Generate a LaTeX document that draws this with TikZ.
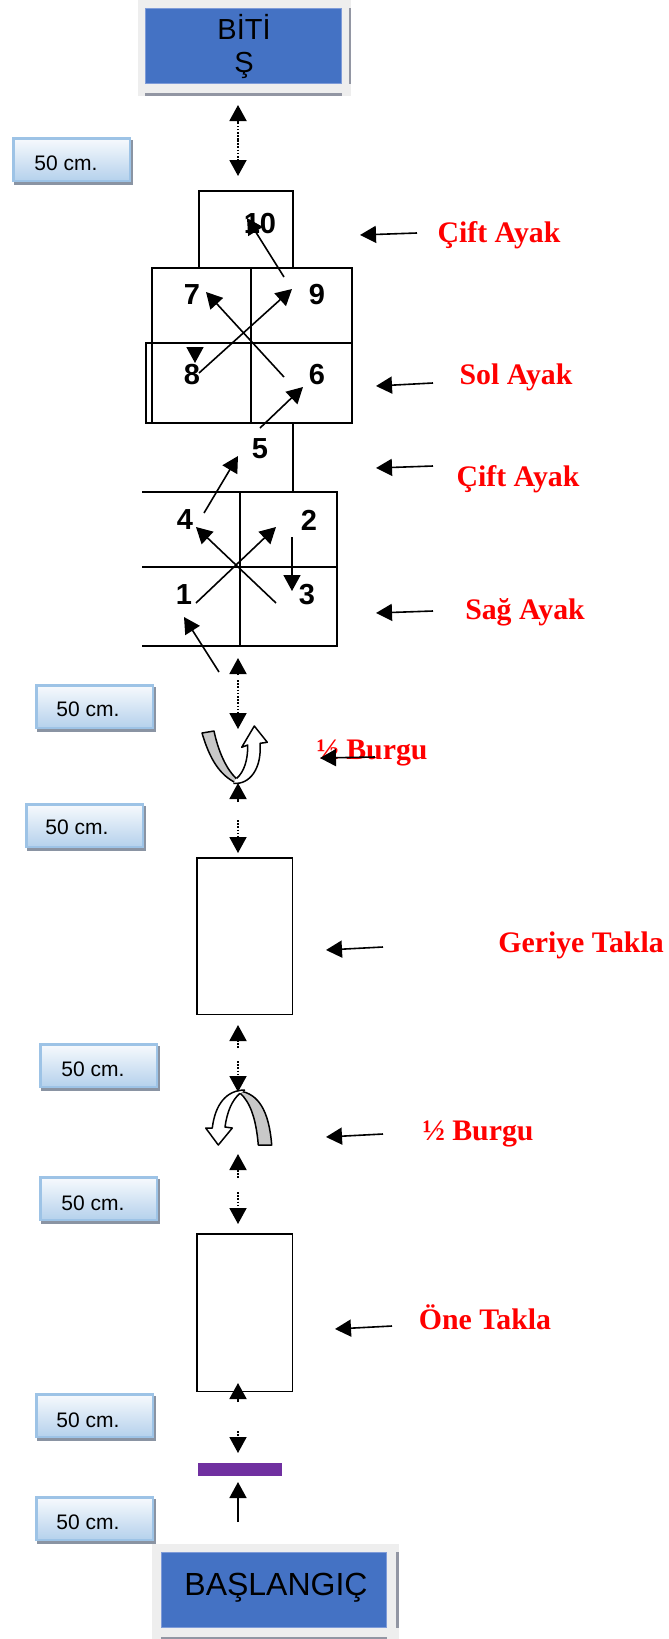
\documentclass[tikz,border=0pt]{standalone}
\usepackage{fontspec}
\setmainfont{Liberation Sans}
\newfontfamily\serifbold[BoldFont={Liberation Serif Bold}]{Liberation Serif}
\usetikzlibrary{arrows.meta}
\definecolor{bluefill}{HTML}{4472C4}
\definecolor{blueedge}{HTML}{7E9BD8}
\definecolor{paleframe}{HTML}{EEEEEE}
\definecolor{greystrip}{HTML}{9296A3}
\definecolor{cmedge}{HTML}{9DC3E6}
\definecolor{cmtop}{HTML}{F7FAFD}
\definecolor{cmbot}{HTML}{B5D1EC}
\definecolor{cmshadow}{HTML}{8A94A3}
\definecolor{purplebar}{HTML}{7030A0}
\definecolor{bandgrey}{HTML}{C8C8C8}
\tikzset{
  x=1pt,y=-1pt,
  gridline/.style={line width=1.9pt,draw=black},
  thinrect/.style={draw=black,line width=1.5pt,inner sep=0pt},
  headtip/.style={-{Triangle[width=17pt,length=16pt]}},
  solidarrow/.style={headtip,line width=1.6pt,draw=black},
  dotarrow/.style={headtip,line width=1.9pt,draw=black,dash pattern=on 1.6pt off 1.6pt},
  numlabel/.style={inner sep=0pt,font=\fontsize{29}{29}\selectfont\bfseries},
  redlabel/.style={anchor=base,inner sep=0pt,text=red,font=\serifbold\fontsize{29.8}{30}\selectfont\bfseries},
  cmbody/.style={anchor=north west,minimum width=116.5pt,minimum height=42.5pt,inner sep=0pt,draw=cmedge,line width=2.5pt,top color=cmtop,bottom color=cmbot},
  cmtext/.style={inner sep=0pt,font=\fontsize{21}{21}\selectfont},
  bluebox/.style={anchor=north west,draw=blueedge,line width=0.7pt,fill=bluefill,inner sep=0pt},
  whiteband/.style={draw=black,line width=1.5pt,fill=white,line join=round},
  greyband/.style={draw=black,line width=1.5pt,fill=bandgrey,line join=round},
}
\newcommand{\cmbox}[5]{%
  \fill[cmshadow] ({#2+2},{#3+3}) rectangle ++(119,45);
  \node[cmbody] (#1) at (#2,#3) {};
  \node[cmtext] (#1t) at (#4,#5) {50 cm.};
}
\newcommand{\pair}[3]{\coordinate (#1s) at #2; \coordinate (#1e) at #3;}
\begin{document}
\begin{tikzpicture}
\useasboundingbox (0,0) rectangle (669,1639);
% top box
\fill[paleframe] (138,0) rectangle (351,96);
\fill[greystrip] (349,8) rectangle (351,84);
\fill[greystrip] (145,93) rectangle (342,96);
\node[bluebox,minimum width=196.3pt,minimum height=75.3pt] (finish) at (145,8) {};
\node[inner sep=0pt,font=\fontsize{29}{29}\selectfont] (finishA) at (244,27) {BİTİ};
\node[inner sep=0pt,font=\fontsize{29}{29}\selectfont,anchor=base] (finishB) at (244,72) {Ş};
% bottom box
\fill[paleframe] (152,1544) rectangle (399,1639);
\fill[greystrip] (396,1552) rectangle (399,1628);
\fill[greystrip] (161,1637) rectangle (387,1639);
\node[bluebox,minimum width=225.3pt,minimum height=75.3pt] (start) at (161,1552) {};
\node[inner sep=0pt,font=\fontsize{32}{32}\selectfont,anchor=base] (startT) at (276,1595) {BAŞLANGIÇ};
% 50 cm boxes
\cmbox{c1}{12}{137}{66}{163}
\cmbox{c2}{35}{684}{88}{709}
\cmbox{c3}{25}{803}{77}{827}
\cmbox{c4}{39}{1043}{93}{1069}
\cmbox{c5}{39}{1176}{93}{1203}
\cmbox{c6}{35}{1393}{88}{1420}
\cmbox{c7}{35}{1496}{88}{1522}
% upper grid
\draw[gridline] (199,268) |- (293,191) -- (293,268);
\draw[gridline] (152,343) -- (152,268) -- (352,268) -- (352,423) -- (146,423) -- (146,343) -- (352,343);
\draw[gridline] (152,343) -- (152,423);
\draw[gridline] (251,268) -- (251,423);
\draw[gridline] (293,423) -- (293,492);
% lower grid
\draw[gridline] (142,492) -- (337,492) -- (337,646) -- (142,646);
\draw[gridline] (142,567) -- (337,567);
\draw[gridline] (240,492) -- (240,646);
% plain rectangles
\node[thinrect,minimum width=95.5pt,minimum height=156.5pt,anchor=north west] (rectB) at (196,857) {};
\node[thinrect,minimum width=95.5pt,minimum height=157.5pt,anchor=north west] (rectF) at (196,1233) {};
\node[fill=purplebar,inner sep=0pt,minimum width=84pt,minimum height=13pt,anchor=north west] (bar) at (198,1463) {};
% numbers
\node[numlabel] (n10) at (260,224) {10};
\node[numlabel] (n7) at (192,295) {7};
\node[numlabel] (n9) at (317,295) {9};
\node[numlabel] (n8) at (192,375) {8};
\node[numlabel] (n6) at (317,375) {6};
\node[numlabel] (n5) at (260,449) {5};
\node[numlabel] (n4) at (185,520) {4};
\node[numlabel] (n2) at (309,520) {2};
\node[numlabel] (n1) at (184,595) {1};
\node[numlabel] (n3) at (307,595) {3};
% path arrows
\pair{p0}{(219,672)}{(184,617)}
\pair{p1}{(196,603)}{(276,527)}
\pair{p2}{(292,537)}{(292,591)}
\pair{p3}{(276,603)}{(196,527)}
\pair{p4}{(204,513)}{(238,456)}
\pair{p5}{(260,428)}{(303,387)}
\pair{p6}{(284,377)}{(206,292)}
\pair{p7}{(195,347)}{(195,363)}
\pair{p8}{(199,373)}{(292,289)}
\pair{p9}{(284,277)}{(247,218)}
\foreach \k in {0,...,9} {\draw[solidarrow] (p\k s) -- (p\k e);}
% curved arrows
\draw[greyband] (202,733) .. controls (210,760) and (220,775) .. (236,783)
  -- (238,780) .. controls (226,770) and (218,750) .. (214,731) -- cycle;
\draw[whiteband] (233.3,783.3) .. controls (250,785) and (262,768) .. (260,743.3)
  -- (267.3,742.3) -- (254.3,726) -- (241.7,747.3) -- (247.7,745)
  .. controls (248,760) and (244,772) .. (236.7,778.3);
\draw[greyband] (240,1091) .. controls (258,1094) and (269,1110) .. (271.7,1145)
  -- (258.3,1145) .. controls (256,1118) and (250,1102) .. (240,1093) -- cycle;
\draw[whiteband] (245,1090) .. controls (226,1090) and (215,1105) .. (212.3,1128)
  -- (205.7,1128) -- (218.3,1145) -- (232.3,1128) -- (225,1127)
  .. controls (227,1112) and (232,1100) .. (240,1093.3);
% dotted connectors
\pair{d1}{(238,140)}{(238,105)}
\pair{d2}{(238,140)}{(238,176)}
\pair{d3}{(238,675)}{(238,658)}
\pair{d4}{(238,680)}{(238,729)}
\pair{d5}{(238,802)}{(238,783)}
\pair{d6}{(238,820)}{(238,853)}
\pair{d7}{(238,1048)}{(238,1025)}
\pair{d8}{(238,1061)}{(238,1092)}
\pair{d9}{(238,1178)}{(238,1154)}
\pair{d10}{(238,1192)}{(238,1224)}
\pair{d11}{(238,1402)}{(238,1383)}
\pair{d12}{(238,1431)}{(238,1453)}
\foreach \k in {1,...,12} {\draw[dotarrow] (d\k s) -- (d\k e);}
\draw[solidarrow] (238,1522) coordinate (upS) -- (238,1482) coordinate (upE);
% red labels
\node[redlabel] (l1) at (499,242) {Çift Ayak};
\node[redlabel] (l2) at (516,384) {Sol Ayak};
\node[redlabel] (l3) at (518,486) {Çift Ayak};
\node[redlabel] (l4) at (525,619) {Sağ Ayak};
\node[redlabel] (l5) at (372,759) {½ Burgu};
\node[redlabel] (l6) at (581,952) {Geriye Takla};
\node[redlabel] (l7) at (478,1140) {½ Burgu};
\node[redlabel] (l8) at (485,1329) {Öne Takla};
% pointers
\pair{q1}{(417,233)}{(360,235)}
\pair{q2}{(433,383)}{(376,386)}
\pair{q3}{(433,466)}{(376,468)}
\pair{q4}{(433,611)}{(376,613)}
\pair{q5}{(375,757)}{(320,758)}
\pair{q6}{(383,947)}{(326,950)}
\pair{q7}{(383,1134)}{(326,1137)}
\pair{q8}{(392,1326)}{(335,1329)}
\foreach \k in {1,...,8} {\draw[solidarrow] (q\k s) -- (q\k e);}
\end{tikzpicture}
\end{document}
